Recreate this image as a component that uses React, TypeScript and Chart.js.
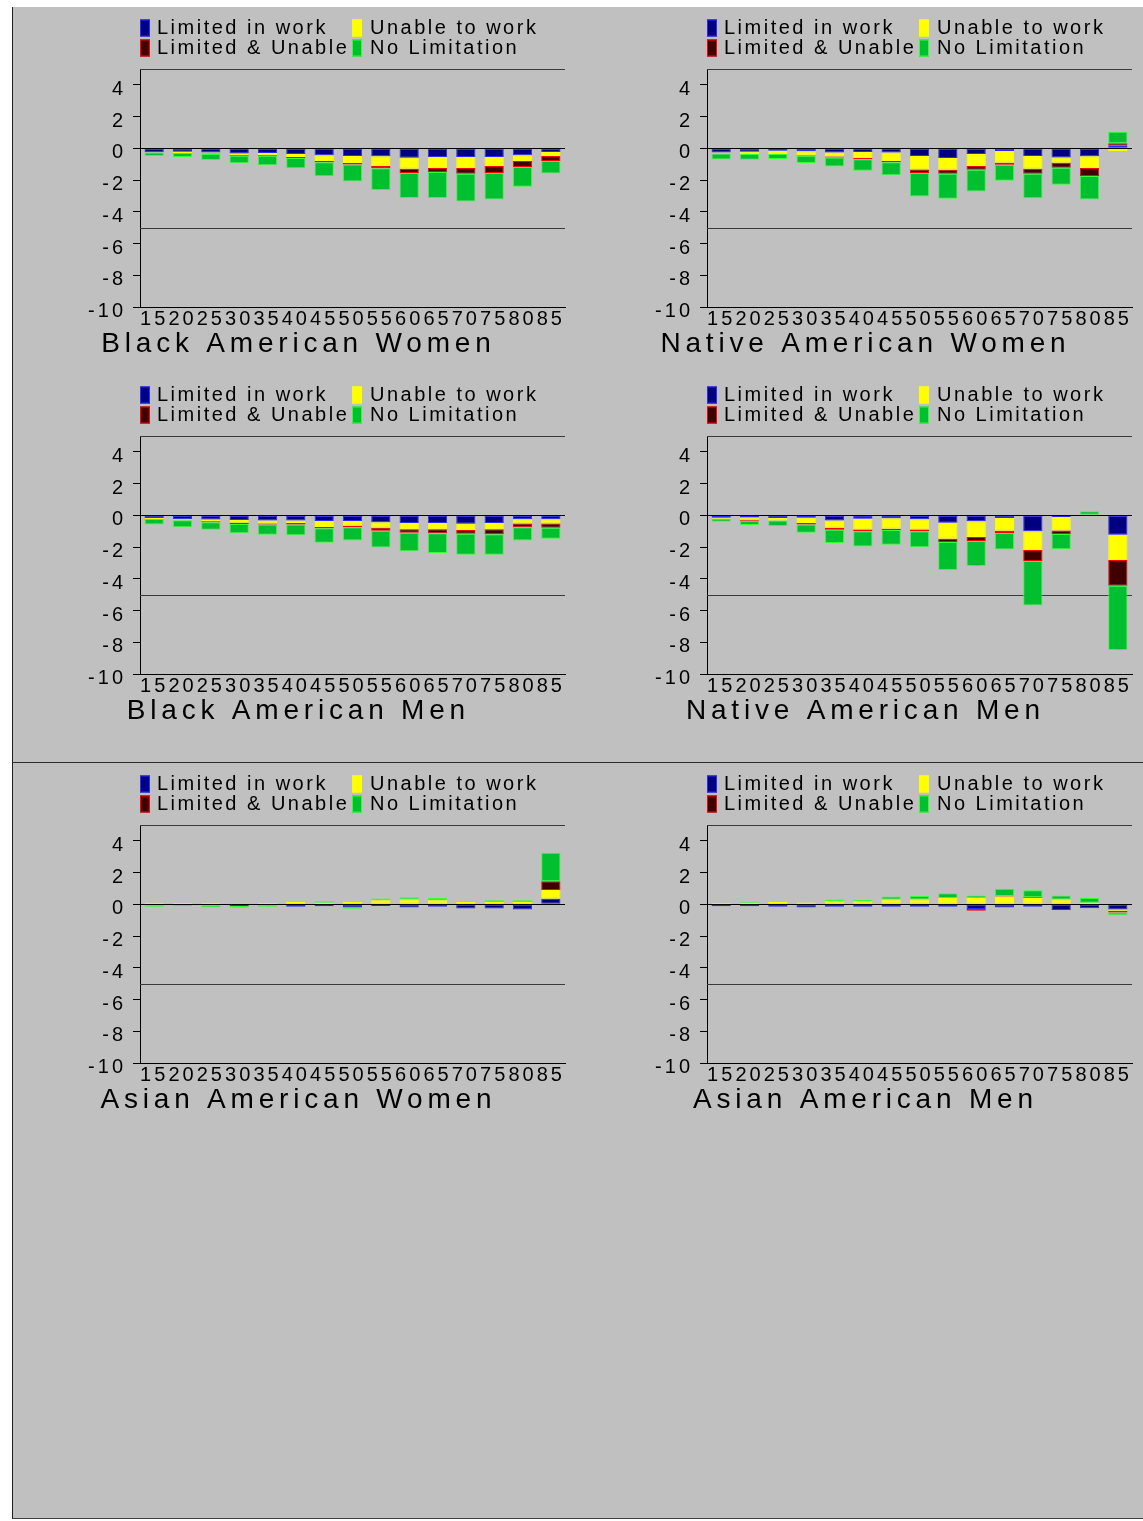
import React, { useEffect, useRef } from 'react';
import { Chart, registerables } from 'chart.js';

Chart.register(...registerables);

// ---------- shared axis data ----------
const AGE_LABELS = ['15', '20', '25', '30', '35', '40', '45', '50', '55', '60', '65', '70', '75', '80', '85'];
const Y_TICKS = [-10, -8, -6, -4, -2, 0, 2, 4];
const Y_MIN = -10;
const Y_MAX = 5;
const REF_LINES = [5, -5];

const SERIES_NAMES = ['Limited in work', 'Unable to work', 'Limited & Unable', 'No Limitation'];
const SERIES_FILL = ['#000080', '#ffff00', '#400000', '#00c030'];
const SERIES_EDGE = ['#2a2aff', '#ffff00', '#ff0000', '#33ff33'];

// ---------- Black American Women ----------
const BAW_LIMITED = [-0.25, -0.21, -0.27, -0.32, -0.3, -0.36, -0.44, -0.48, -0.5, -0.59, -0.55, -0.55, -0.55, -0.44, -0.23];
const BAW_UNABLE = [-0.02, -0.08, -0.06, -0.1, -0.12, -0.19, -0.36, -0.44, -0.61, -0.69, -0.69, -0.69, -0.57, -0.36, -0.25];
const BAW_BOTH = [0, 0, -0.02, -0.04, -0.05, -0.06, -0.08, -0.1, -0.15, -0.27, -0.25, -0.36, -0.44, -0.38, -0.32];
const BAW_NONE = [-0.22, -0.25, -0.38, -0.48, -0.6, -0.65, -0.88, -1.07, -1.37, -1.58, -1.64, -1.75, -1.66, -1.24, -0.78];

// ---------- Native American Women ----------
const NAW_LIMITED = [-0.27, -0.21, -0.15, -0.19, -0.27, -0.23, -0.27, -0.48, -0.61, -0.36, -0.17, -0.48, -0.57, -0.5, 0.17];
const NAW_UNABLE = [-0.06, -0.15, -0.21, -0.25, -0.25, -0.38, -0.53, -0.86, -0.74, -0.76, -0.74, -0.8, -0.34, -0.74, -0.17];
const NAW_BOTH = [0, 0, 0, -0.02, -0.06, -0.08, -0.08, -0.21, -0.25, -0.23, -0.13, -0.32, -0.32, -0.51, 0.15];
const NAW_NONE = [-0.38, -0.36, -0.32, -0.46, -0.57, -0.72, -0.82, -1.49, -1.58, -1.37, -1.01, -1.54, -1.07, -1.47, 0.72];

// ---------- Black American Men ----------
const BAM_LIMITED = [-0.17, -0.25, -0.27, -0.29, -0.32, -0.32, -0.36, -0.36, -0.44, -0.48, -0.48, -0.53, -0.48, -0.25, -0.25];
const BAM_UNABLE = [-0.06, -0.06, -0.1, -0.17, -0.19, -0.17, -0.38, -0.29, -0.34, -0.4, -0.4, -0.4, -0.4, -0.27, -0.27];
const BAM_BOTH = [0, 0, -0.06, -0.08, -0.06, -0.08, -0.08, -0.1, -0.19, -0.21, -0.25, -0.23, -0.32, -0.23, -0.27];
const BAM_NONE = [-0.34, -0.44, -0.48, -0.59, -0.65, -0.69, -0.91, -0.84, -1.05, -1.18, -1.24, -1.33, -1.28, -0.84, -0.69];

// ---------- Native American Men ----------
const NAM_LIMITED = [-0.15, -0.13, -0.17, -0.15, -0.32, -0.21, -0.19, -0.25, -0.46, -0.38, -0.17, -1.01, -0.1, 0, -1.22];
const NAM_UNABLE = [-0.06, -0.15, -0.15, -0.34, -0.46, -0.69, -0.65, -0.65, -1.01, -0.99, -0.8, -1.18, -0.86, -0.04, -1.6];
const NAM_BOTH = [0, -0.06, 0, -0.08, -0.13, -0.1, -0.08, -0.1, -0.21, -0.25, -0.15, -0.69, -0.21, 0, -1.62];
const NAM_NONE = [-0.19, -0.27, -0.36, -0.53, -0.84, -0.97, -0.93, -1.01, -1.77, -1.58, -1.03, -2.8, -0.97, 0.25, -4.04];

// ---------- Asian American Women ----------
const AAW_LIMITED = [0, 0, -0.05, -0.1, -0.04, -0.15, -0.12, -0.2, -0.1, -0.2, -0.15, -0.27, -0.27, -0.33, 0.35];
const AAW_UNABLE = [0.1, 0.08, 0.1, 0.05, 0.08, 0.15, 0.1, 0.15, 0.25, 0.3, 0.25, 0.15, 0.15, 0.15, 0.55];
const AAW_BOTH = [0, 0, 0, 0, 0, 0, 0, 0, 0, 0, 0, 0, 0, 0, 0.55];
const AAW_NONE = [-0.15, -0.12, -0.15, -0.12, -0.12, 0, 0.1, -0.08, 0.12, 0.15, 0.15, 0.03, 0.1, 0.1, 1.8];

// ---------- Asian American Men ----------
const AAM_LIMITED = [-0.12, -0.12, -0.15, -0.2, -0.15, -0.15, -0.15, -0.15, -0.15, -0.3, -0.2, -0.15, -0.35, -0.25, -0.33];
const AAM_UNABLE = [0.08, 0.1, 0.15, 0.12, 0.2, 0.2, 0.3, 0.3, 0.4, 0.4, 0.5, 0.4, 0.3, 0.1, -0.08];
const AAM_BOTH = [0, 0, 0, 0, 0, 0, 0, 0, 0, -0.1, 0.03, 0.04, 0, 0, -0.1];
const AAM_NONE = [0, 0.06, 0, 0, 0.1, 0.08, 0.2, 0.22, 0.3, 0.15, 0.45, 0.45, 0.25, 0.3, -0.18];

const FONT = '"Liberation Sans", Arial, Helvetica, sans-serif';
const TICK_SIZE = 20;
const TICK_SPACING = 3.0;
const LEGEND_SIZE = 20;
const LEGEND_SPACING = 2.5;
const TITLE_SIZE = 28;
const TITLE_SPACING = 4.8;

const CANVAS_W = 566;
const CANVAS_H = 370;

type PanelCfg = { title: string; series: number[][]; left: number; top: number };

const PANELS: PanelCfg[] = [
  { title: 'Black American Women', series: [BAW_LIMITED, BAW_UNABLE, BAW_BOTH, BAW_NONE], left: 13, top: 7 },
  { title: 'Native American Women', series: [NAW_LIMITED, NAW_UNABLE, NAW_BOTH, NAW_NONE], left: 580, top: 7 },
  { title: 'Black American Men', series: [BAM_LIMITED, BAM_UNABLE, BAM_BOTH, BAM_NONE], left: 13, top: 374 },
  { title: 'Native American Men', series: [NAM_LIMITED, NAM_UNABLE, NAM_BOTH, NAM_NONE], left: 580, top: 374 },
  { title: 'Asian American Women', series: [AAW_LIMITED, AAW_UNABLE, AAW_BOTH, AAW_NONE], left: 13, top: 763 },
  { title: 'Asian American Men', series: [AAM_LIMITED, AAM_UNABLE, AAM_BOTH, AAM_NONE], left: 580, top: 763 },
];

function drawSpaced(ctx: any, text: string, x: number, y: number, size: number, spacing: number, align: 'left' | 'center') {
  ctx.save();
  ctx.font = `${size}px ${FONT}`;
  ctx.letterSpacing = '0px';
  const w0 = ctx.measureText(text).width;
  const vis = w0 + spacing * (text.length - 1);
  ctx.letterSpacing = spacing + 'px';
  ctx.textAlign = 'left';
  ctx.textBaseline = 'middle';
  ctx.fillStyle = '#000';
  const sx = align === 'center' ? x - vis / 2 : x;
  ctx.fillText(text, sx, y);
  ctx.restore();
}

function makeDecor(title: string) {
  return {
    id: 'panelDecor',
    beforeDraw(chart: any) {
      chart.ctx.letterSpacing = TICK_SPACING + 'px';
    },
    beforeDatasetsDraw(chart: any) {
      const { ctx, chartArea, scales } = chart;
      ctx.save();
      ctx.strokeStyle = '#3a3a3a';
      ctx.lineWidth = 1;
      REF_LINES.forEach((v) => {
        const y = Math.round(scales.y.getPixelForValue(v)) + 0.5;
        ctx.beginPath();
        ctx.moveTo(chartArea.left, y);
        ctx.lineTo(chartArea.right, y);
        ctx.stroke();
      });
      ctx.restore();
    },
    afterDatasetsDraw(chart: any) {
      const { ctx, chartArea, scales } = chart;
      ctx.save();
      ctx.strokeStyle = '#000';
      ctx.lineWidth = 1;
      const y = Math.round(scales.y.getPixelForValue(0)) + 0.5;
      ctx.beginPath();
      ctx.moveTo(chartArea.left, y);
      ctx.lineTo(chartArea.right, y);
      ctx.stroke();
      ctx.restore();
    },
    afterDraw(chart: any) {
      const ctx = chart.ctx;
      const dsets = chart.data.datasets;
      dsets.forEach((ds: any, i: number) => {
        const col = i % 2;
        const row = Math.floor(i / 2);
        const bx = 127 + col * 212;
        const by = 12.5 + row * 20;
        ctx.save();
        ctx.fillStyle = ds.backgroundColor;
        ctx.fillRect(bx, by, 10, 17);
        ctx.strokeStyle = ds.borderColor;
        ctx.lineWidth = 1;
        ctx.strokeRect(bx + 0.5, by + 0.5, 9, 16);
        ctx.restore();
        drawSpaced(ctx, ds.label, 144 + col * 213, 21 + row * 20, LEGEND_SIZE, LEGEND_SPACING, 'left');
      });
      drawSpaced(ctx, title, CANVAS_W / 2, 337, TITLE_SIZE, TITLE_SPACING, 'center');
    },
  };
}

function Panel({ cfg }: { cfg: PanelCfg }) {
  const ref = useRef<HTMLCanvasElement>(null);
  useEffect(() => {
    if (!ref.current) return;
    const chart = new Chart(ref.current, {
      type: 'bar',
      data: {
        labels: AGE_LABELS,
        datasets: cfg.series.map((vals, i) => ({
          label: SERIES_NAMES[i],
          data: vals,
          backgroundColor: SERIES_FILL[i],
          borderColor: SERIES_EDGE[i],
          borderWidth: 1,
          borderSkipped: false,
          barPercentage: 0.68,
          categoryPercentage: 1,
        })),
      },
      options: {
        responsive: false,
        animation: false,
        events: [],
        layout: { padding: { left: 0, right: 14, top: 62, bottom: 30 } },
        plugins: {
          legend: { display: false },
          title: { display: false },
          tooltip: { enabled: false },
        },
        scales: {
          x: {
            stacked: true,
            grid: { display: false },
            border: { display: true, color: '#000', width: 1 },
            ticks: {
              color: '#000',
              font: { family: FONT, size: TICK_SIZE },
              autoSkip: false,
              maxRotation: 0,
              minRotation: 0,
              padding: -8,
            },
            afterFit: (s: any) => {
              s.height = 40;
            },
          },
          y: {
            stacked: true,
            min: Y_MIN,
            max: Y_MAX,
            bounds: 'data',
            afterBuildTicks: (s: any) => {
              s.ticks = Y_TICKS.map((v) => ({ value: v }));
            },
            grid: { display: true, drawOnChartArea: false, drawTicks: true, tickLength: 7, color: '#000', lineWidth: 1 },
            border: { display: true, color: '#000', width: 1 },
            ticks: { color: '#000', font: { family: FONT, size: TICK_SIZE }, padding: 7, labelOffset: 4.5 },
            afterFit: (s: any) => {
              s.width = 127;
            },
          },
        },
      } as any,
      plugins: [makeDecor(cfg.title)],
    });
    return () => chart.destroy();
  }, [cfg]);
  return (
    <canvas
      ref={ref}
      width={CANVAS_W}
      height={CANVAS_H}
      style={{ position: 'absolute', left: cfg.left, top: cfg.top, width: CANVAS_W, height: CANVAS_H }}
    />
  );
}

export default function App() {
  return (
    <div style={{ position: 'absolute', left: 0, top: 0, width: 1143, height: 1521, overflow: 'hidden', background: '#fff' }}>
      <div
        style={{
          position: 'absolute',
          left: 12,
          top: 7,
          width: 1131,
          height: 1511,
          background: '#c0c0c0',
          borderLeft: '1px solid #202020',
          borderBottom: '1px solid #404040',
        }}
      />
      <div style={{ position: 'absolute', left: 12, top: 762, width: 1131, height: 1, background: '#2a2a2a' }} />
      {PANELS.map((p) => (
        <Panel key={p.title} cfg={p} />
      ))}
    </div>
  );
}
